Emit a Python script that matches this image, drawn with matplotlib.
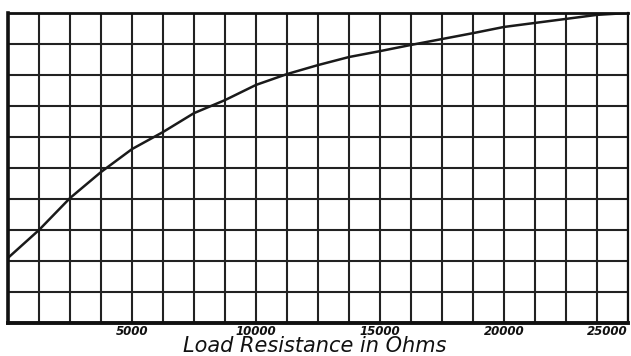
import matplotlib
matplotlib.use("Agg")
import matplotlib.pyplot as plt
import numpy as np

# load resistance (ohms), one reading per grid column
resistance = [0, 1250, 2500, 3750, 5000, 6250, 7500, 8750, 10000, 11250, 12500,
              13750, 15000, 16250, 17500, 18750, 20000, 21250, 22500, 23750, 25000]
# curve height in grid divisions
output = [2.10, 3.00, 4.03, 4.87, 5.61, 6.16, 6.77, 7.19, 7.68, 8.03, 8.32,
          8.58, 8.77, 8.97, 9.16, 9.35, 9.55, 9.68, 9.81, 9.94, 10.0]

tick_vals = [5000, 10000, 15000, 20000, 25000]
tick_text = ["5000", "10000", "15000", "20000", "25000"]

fig = plt.figure(figsize=(6.31, 3.56), dpi=100)
ax = fig.add_axes([8 / 631, 33 / 356, 620 / 631, 310 / 356])

ax.plot(resistance, output, color="#1a1a1a", linewidth=1.8, solid_capstyle="round",
        solid_joinstyle="round")

ax.set_xlim(0, 25000)
ax.set_ylim(0, 10)
ax.set_xticks(np.arange(0, 25001, 1250))
ax.set_yticks(np.arange(0, 11, 1))
ax.set_xticklabels([])
ax.set_yticklabels([])
ax.tick_params(length=0)
ax.grid(True, color="#222222", linewidth=1.5)
ax.set_axisbelow(True)

for side, lw in [("left", 2.6), ("bottom", 2.8), ("top", 2.0), ("right", 1.6)]:
    ax.spines[side].set_linewidth(lw)
    ax.spines[side].set_color("#111111")

for v, t in zip(tick_vals, tick_text):
    ha = "right" if v == 25000 else "center"
    ax.text(v, -0.05, t, ha=ha, va="top", fontsize=8.5, fontstyle="italic",
            fontweight="bold", color="#111111", clip_on=False)

fig.text(315 / 631, 0, "Load Resistance in Ohms", ha="center", va="bottom",
         fontsize=15, fontstyle="italic", color="#111111")

fig.savefig("out.png", dpi=100)
